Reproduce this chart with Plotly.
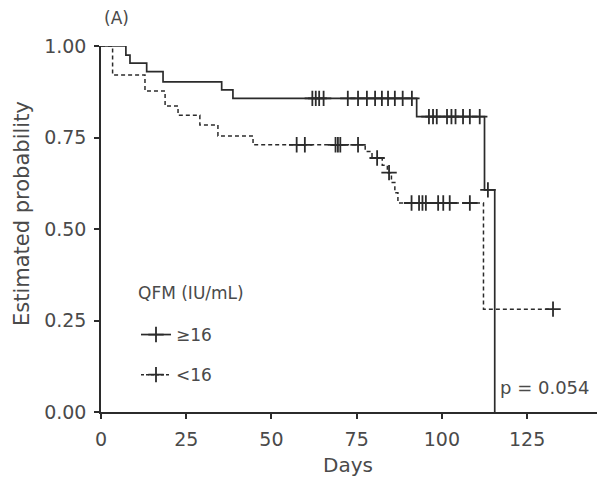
import plotly.graph_objects as go
import numpy as np

# ---- data ----
# QFM >= 16 : step curve (event times, survival after event)
hi_times = [0, 7.3, 8.5, 13.4, 18.2, 35.4, 38.7, 92.6, 112.5, 115.5]
hi_surv = [1.0, 0.975, 0.953, 0.930, 0.902, 0.880, 0.857, 0.807, 0.607, 0.0]
hi_cens = [62.0, 63.0, 64.0, 65.3, 72.4, 75.4, 78.0, 80.4, 82.4, 84.2, 86.2, 88.5, 91.2,
           96.2, 97.4, 98.5, 101.5, 102.8, 104.0, 106.2, 108.2, 111.1, 113.5]
hi_end = 115.5

# QFM < 16 : step curve
lo_times = [0, 3.4, 12.9, 18.8, 22.6, 29.0, 34.3, 44.6, 77.5, 79.5, 82.5, 84.0, 85.2, 86.2, 87.1, 112.2]
lo_surv = [1.0, 0.921, 0.877, 0.836, 0.811, 0.784, 0.754, 0.730, 0.712, 0.694, 0.674, 0.654, 0.627, 0.599, 0.571, 0.281]
lo_cens = [57.4, 59.8, 68.8, 69.5, 70.2, 75.4, 81.0, 84.5, 91.1, 93.3, 94.3, 95.3, 98.9, 100.4, 102.3, 108.2, 132.6]
lo_end = 132.6

x_ticks = [0, 25, 50, 75, 100, 125]
y_ticks = [0.0, 0.25, 0.50, 0.75, 1.00]

LINE = "#2b2b2b"
TEXT = "#4a4a4a"
FONT = "DejaVu Sans, Verdana, sans-serif"


def step_xy(times, surv, end):
    xs = list(times) + [end]
    ys = list(surv) + [surv[-1]]
    return xs, ys


def surv_at(times, surv, t):
    idx = np.searchsorted(np.array(times), t, side="right") - 1
    return surv[max(idx, 0)]


fig = go.Figure()

hx, hy = step_xy(hi_times, hi_surv, hi_end)
lx, ly = step_xy(lo_times, lo_surv, lo_end)

fig.add_trace(go.Scatter(x=hx, y=hy, mode="lines", line=dict(color=LINE, width=1.7, shape="hv"),
                         showlegend=False, cliponaxis=False, hoverinfo="skip"))
fig.add_trace(go.Scatter(x=lx, y=ly, mode="lines",
                         line=dict(color=LINE, width=1.5, shape="hv", dash="4px,3px"),
                         showlegend=False, cliponaxis=False, hoverinfo="skip"))

fig.add_trace(go.Scatter(x=hi_cens, y=[surv_at(hi_times, hi_surv, t) for t in hi_cens], mode="markers",
                         marker=dict(symbol="cross-thin", size=11, line=dict(color=LINE, width=1.8)),
                         showlegend=False, cliponaxis=False))
fig.add_trace(go.Scatter(x=lo_cens, y=[surv_at(lo_times, lo_surv, t) for t in lo_cens], mode="markers",
                         marker=dict(symbol="cross-thin", size=11, line=dict(color=LINE, width=1.8)),
                         showlegend=False, cliponaxis=False))

# legend entries
fig.add_trace(go.Scatter(x=[None], y=[None], mode="lines+markers", name="≥16", legendgroup="a",
                         line=dict(color=LINE, width=1.7),
                         marker=dict(symbol="cross-thin", size=11, line=dict(color=LINE, width=1.8))))
fig.add_trace(go.Scatter(x=[None], y=[None], mode="lines+markers", name="<16", legendgroup="b",
                         line=dict(color=LINE, width=1.5, dash="3px,2px"),
                         marker=dict(symbol="cross-thin", size=11, line=dict(color=LINE, width=1.8))))

W, H = 600, 482
L, R, T, B = 101, 3, 46, 70
pw, ph = W - L - R, H - T - B


def px(xp):
    return (xp - L) / pw


def py(yp):
    return (H - B - yp) / ph


def note(text, x, y, size, xanchor="center", angle=0):
    return dict(text=text, x=px(x), y=py(y), xref="paper", yref="paper", showarrow=False,
                xanchor=xanchor, yanchor="middle", textangle=angle,
                font=dict(family=FONT, size=size, color=TEXT))


fig.update_layout(
    width=W, height=H,
    margin=dict(l=L, r=R, t=T, b=B),
    paper_bgcolor="white", plot_bgcolor="white",
    font=dict(family=FONT, color=TEXT, size=18),
    legend=dict(
        x=px(136), y=py(317), xanchor="left", yanchor="top",
        bgcolor="rgba(0,0,0,0)", font=dict(family=FONT, size=17, color=TEXT),
        tracegroupgap=15, itemwidth=30,
    ),
    xaxis=dict(range=[0, 145.5], tickvals=x_ticks, showline=True, linecolor=LINE, linewidth=1.5,
               ticks="outside", ticklen=5, tickwidth=1.5, tickcolor=LINE, showgrid=False, zeroline=False,
               tickfont=dict(size=19, color=TEXT), ticklabelstandoff=4),
    yaxis=dict(range=[0, 1], tickvals=y_ticks, tickformat=".2f", showline=True, linecolor=LINE, linewidth=1.5,
               ticks="outside", ticklen=5, tickwidth=1.5, tickcolor=LINE, showgrid=False, zeroline=False,
               tickfont=dict(size=19, color=TEXT), ticklabelstandoff=4),
    annotations=[
        note("Days", 348, 465, 20),
        note("Estimated probability", 22, 214, 21, angle=-90),
        note("(A)", 116, 18, 17),
        note("p = 0.054", 544, 387, 18),
        note("QFM (IU/mL)", 136, 293, 17, xanchor="left"),
    ],
)

fig.write_html("out.html")
